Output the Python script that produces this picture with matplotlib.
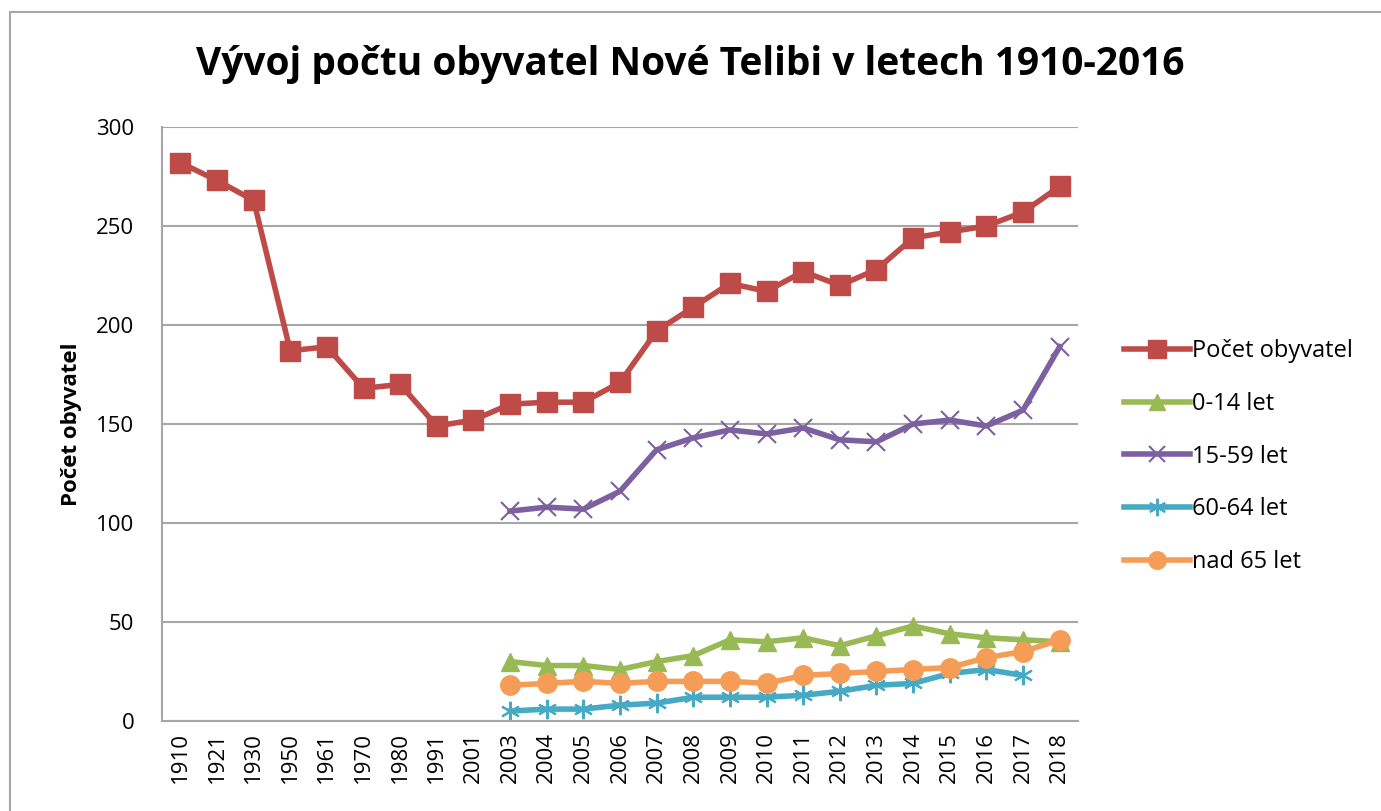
import numpy as np
import matplotlib.pyplot as plt
from matplotlib.patches import Rectangle

# data
years = ['1910', '1921', '1930', '1950', '1961', '1970', '1980', '1991', '2001',
         '2003', '2004', '2005', '2006', '2007', '2008', '2009', '2010', '2011',
         '2012', '2013', '2014', '2015', '2016', '2017', '2018']
total = [282, 273, 263, 187, 189, 168, 170, 149, 152,
         160, 161, 161, 171, 197, 209, 221, 217, 227, 220, 228, 244, 247, 250, 257, 270]
# age groups only from 2003 on
age_0_14 = [30, 28, 28, 26, 30, 33, 41, 40, 42, 38, 43, 48, 44, 42, 41, 40]
age_15_59 = [106, 108, 107, 116, 137, 143, 147, 145, 148, 142, 141, 150, 152, 149, 157, 189]
age_60_64 = [5, 6, 6, 8, 9, 12, 12, 12, 13, 15, 18, 19, 24, 26, 23]
age_65 = [18, 19, 20, 19, 20, 20, 20, 19, 23, 24, 25, 26, 27, 32, 35, 41]

plt.rcParams['font.family'] = ['Open Sans', 'DejaVu Sans']

x = np.arange(len(years))
x_age = x[9:]

fig = plt.figure(figsize=(13.81, 8.11), dpi=100)
ax = fig.add_axes([0.1173, 0.111, 0.6633, 0.7324])

ax.plot(x, total, color='#be4b48', lw=4, marker='s', ms=15, label='Počet obyvatel')
ax.plot(x_age, age_0_14, color='#98b954', lw=4, marker='^', ms=13, label='0-14 let')
ax.plot(x_age, age_15_59, color='#7d60a0', lw=4, marker='x', ms=13, mew=1.5, label='15-59 let')
ax.plot(x_age[:len(age_60_64)], age_60_64, color='#46aac5', lw=4, marker=(6, 2, 0), ms=14, mew=1.5, label='60-64 let')
ax.plot(x_age, age_65, color='#f59d56', lw=4, marker='o', ms=14, label='nad 65 let')

ax.set_xlim(-0.5, len(years) - 0.5)
ax.set_ylim(0, 300)
ax.set_yticks(np.arange(0, 301, 50))
ax.set_xticks(x)
ax.set_xticklabels(years, rotation=90, fontsize=16)
ax.tick_params(axis='y', labelsize=16, length=0, pad=20)
ax.tick_params(axis='x', length=0, pad=8)
ax.yaxis.grid(True, color='#a6a6a6', lw=1.5)
ax.set_axisbelow(True)
for s in ['top', 'right']:
    ax.spines[s].set_visible(False)
for s in ['left', 'bottom']:
    ax.spines[s].set_color('#a6a6a6')
    ax.spines[s].set_linewidth(1.5)

ax.set_ylabel('Počet obyvatel', fontsize=16, fontweight='bold', labelpad=10)

fig.text(0.5, 0.92, 'Vývoj počtu obyvatel Nové Telibi v letech 1910-2016',
         ha='center', va='center', fontsize=28, fontweight='bold')

ax.legend(loc='center left', bbox_to_anchor=(1.05, 0.445), frameon=False,
          fontsize=17, labelspacing=1.22, handlelength=2.8, handletextpad=0.1,
          borderaxespad=0, borderpad=0, markerscale=0.9)

# outer chart frame
fig.patches.append(Rectangle((10 / 1381, -0.1), 1.2, (811 - 12) / 811 + 0.1,
                             transform=fig.transFigure, fill=False,
                             edgecolor='#a6a6a6', lw=1.5))

fig.savefig('out.png', dpi=100)
